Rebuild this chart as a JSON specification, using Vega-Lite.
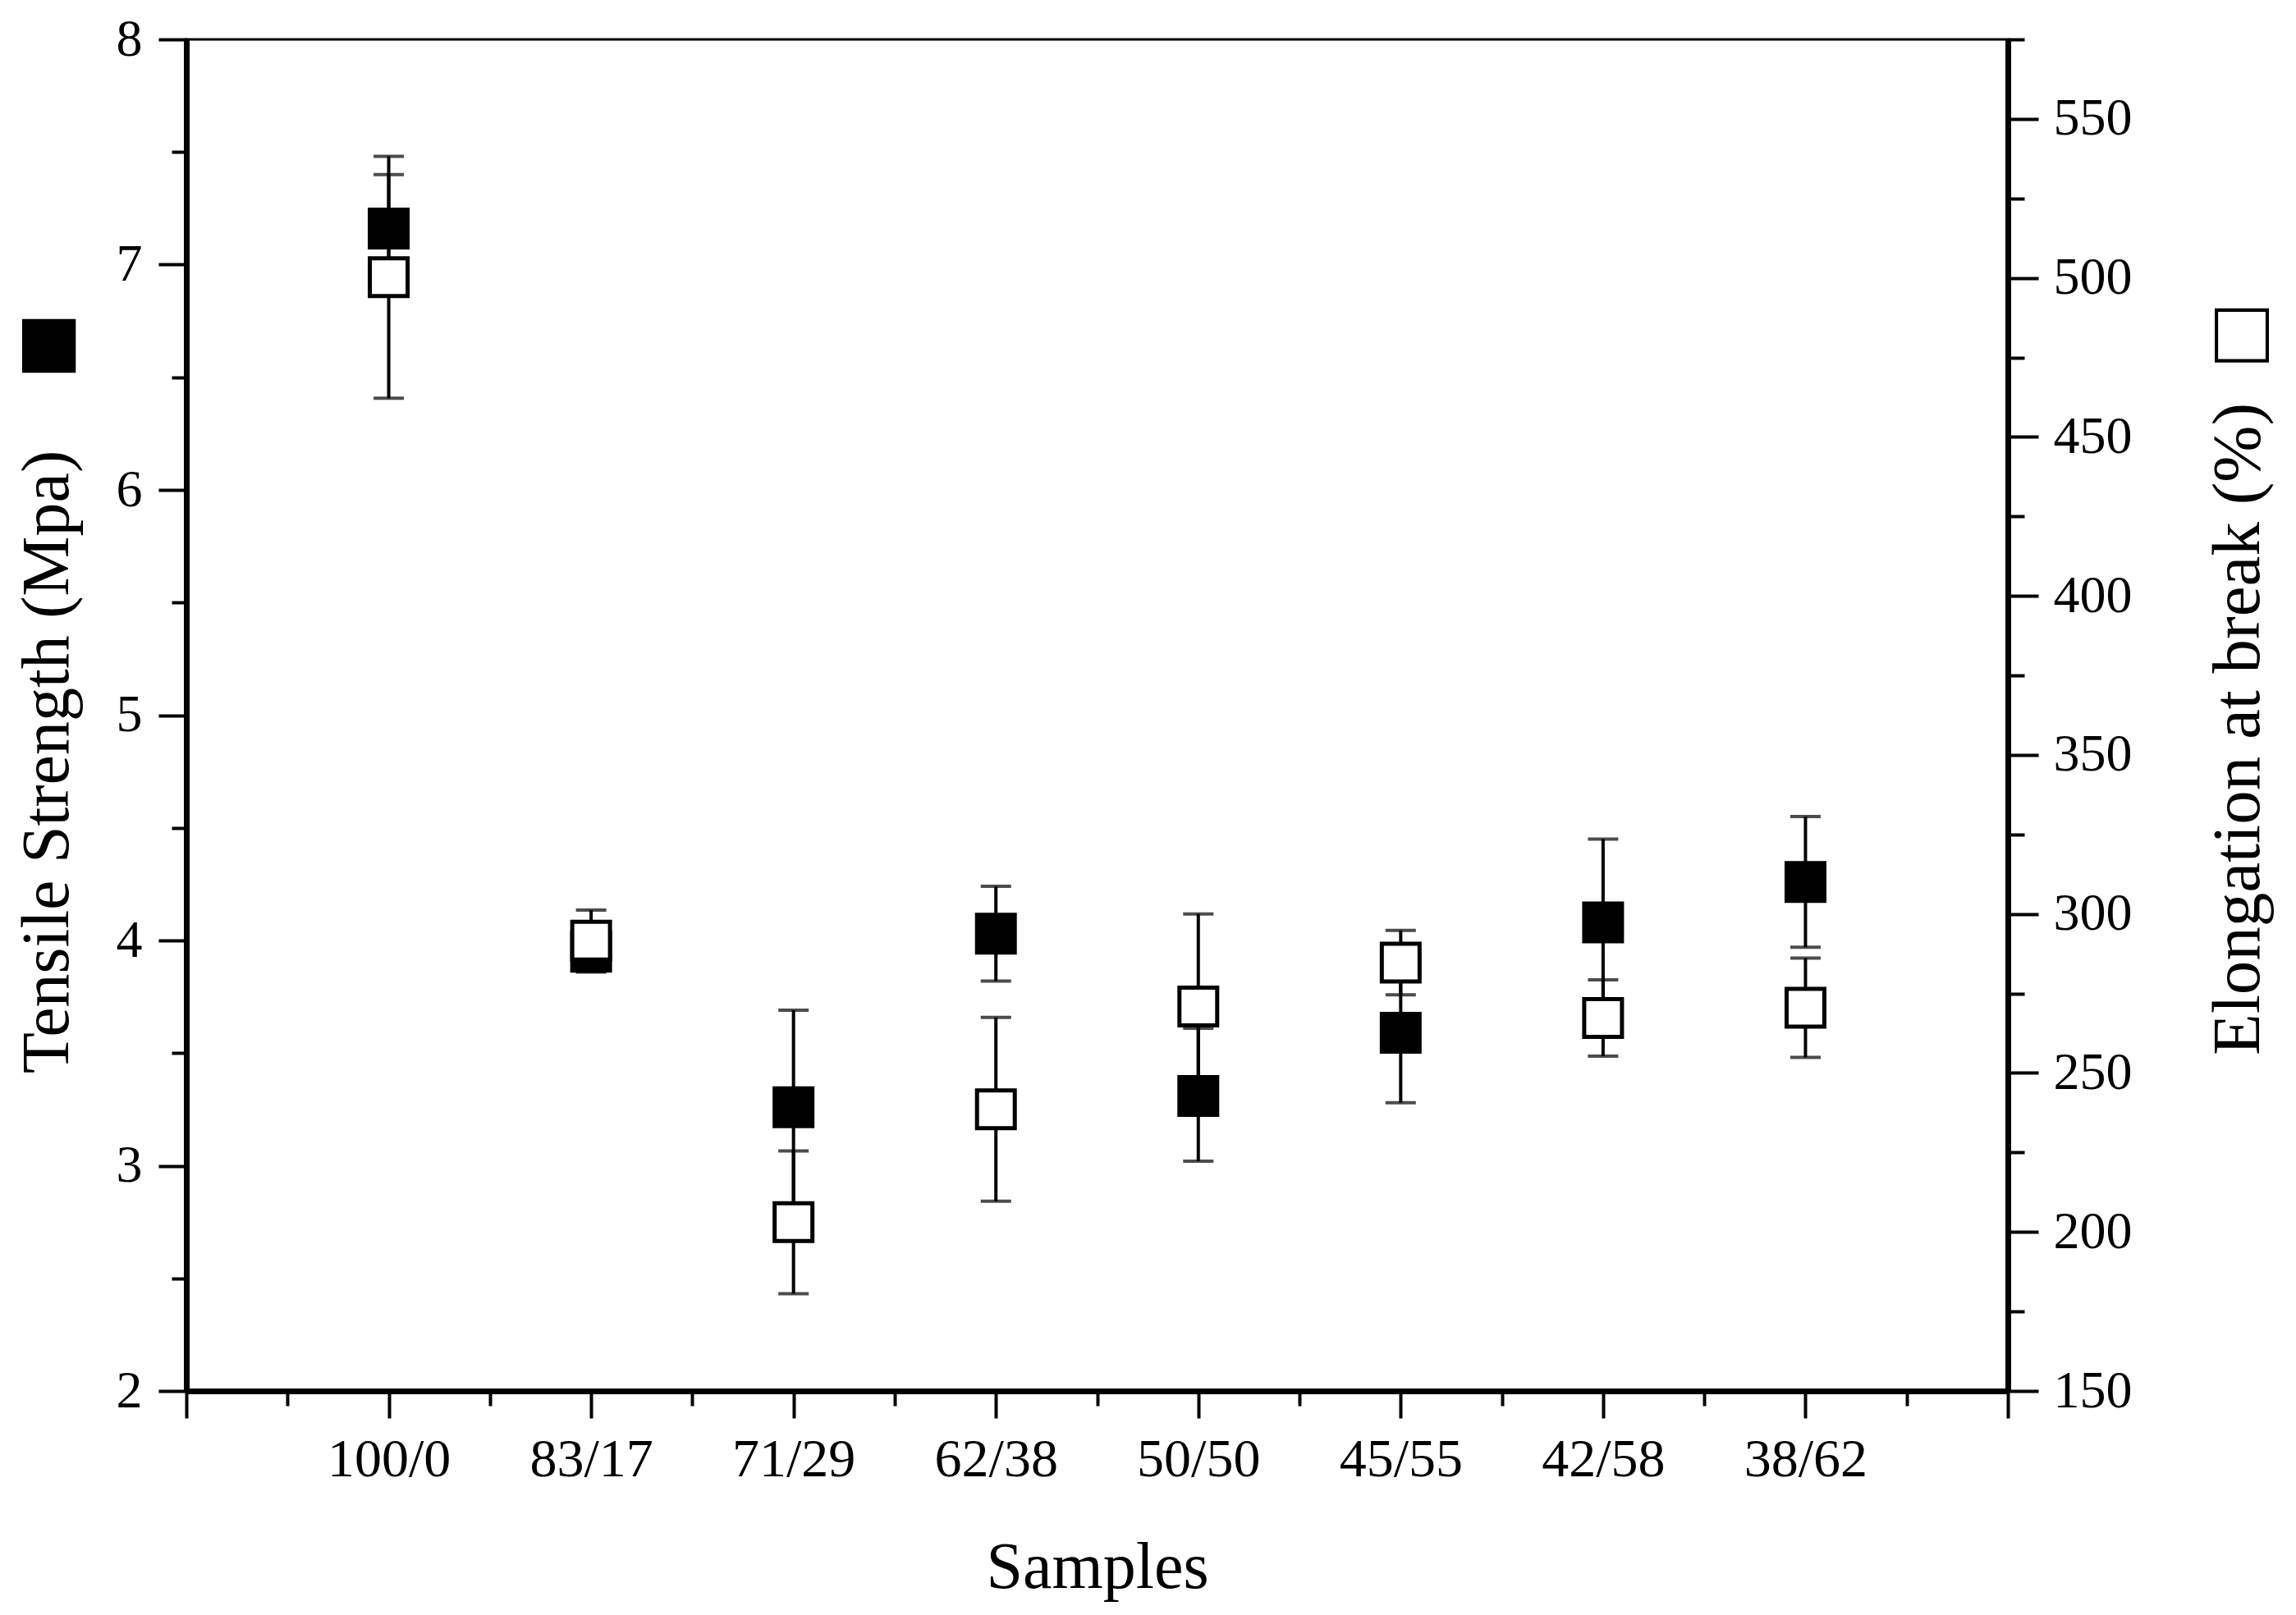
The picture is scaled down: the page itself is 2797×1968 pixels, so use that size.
{
  "$schema": "https://vega.github.io/schema/vega-lite/v6.json",
  "width": 2219,
  "height": 1647,
  "autosize": {"type": "none"},
  "padding": {"left": 227, "top": 48, "right": 351, "bottom": 273},
  "background": "white",
  "config": {
    "view": {"stroke": "black", "strokeWidth": 3},
    "font": "Liberation Serif",
    "axis": {
      "grid": false,
      "domainColor": "black",
      "domainWidth": 7,
      "tickColor": "black",
      "tickWidth": 4,
      "labelColor": "black",
      "titleColor": "black",
      "labelFont": "Liberation Serif",
      "titleFont": "Liberation Serif",
      "titleFontWeight": "normal"
    }
  },
  "data": {
    "values": [
      {"sample": "100/0", "ts": 7.16, "ts_lo": 6.92, "ts_hi": 7.40, "el": 500.2, "el_lo": 462.2, "el_hi": 538.2},
      {"sample": "83/17", "ts": 3.95, "ts_lo": 3.86, "ts_hi": 4.04, "el": 291.6, "el_lo": 282.0, "el_hi": 301.2},
      {"sample": "71/29", "ts": 3.26, "ts_lo": 2.83, "ts_hi": 3.69, "el": 203.1, "el_lo": 180.6, "el_hi": 225.5},
      {"sample": "62/38", "ts": 4.03, "ts_lo": 3.82, "ts_hi": 4.24, "el": 238.6, "el_lo": 209.7, "el_hi": 267.5},
      {"sample": "50/50", "ts": 3.31, "ts_lo": 3.02, "ts_hi": 3.61, "el": 270.9, "el_lo": 241.8, "el_hi": 300.0},
      {"sample": "45/55", "ts": 3.59, "ts_lo": 3.28, "ts_hi": 3.90, "el": 284.7, "el_lo": 274.6, "el_hi": 294.8},
      {"sample": "42/58", "ts": 4.08, "ts_lo": 3.71, "ts_hi": 4.45, "el": 267.3, "el_lo": 255.3, "el_hi": 279.3},
      {"sample": "38/62", "ts": 4.26, "ts_lo": 3.97, "ts_hi": 4.55, "el": 270.5, "el_lo": 254.9, "el_hi": 286.1}
    ]
  },
  "layer": [
    {
      "encoding": {
        "x": {
          "field": "sample", "type": "ordinal", "sort": null,
          "scale": {"type": "point", "padding": 1},
          "axis": {
            "orient": "bottom", "title": "Samples", "titleFontSize": 80, "titlePadding": 60,
            "labelFontSize": 66, "labelAngle": 0, "labelPadding": 18, "tickSize": 33
          }
        }
      },
      "layer": [
        {
          "mark": {"type": "rule", "color": "black", "strokeWidth": 4},
          "encoding": {
            "y": {
              "field": "ts_lo", "type": "quantitative",
              "scale": {"domain": [2, 8], "nice": false, "zero": false},
              "axis": {
                "orient": "left",
                "values": [2, 2.5, 3, 3.5, 4, 4.5, 5, 5.5, 6, 6.5, 7, 7.5, 8],
                "labelExpr": "datum.value % 1 === 0 ? format(datum.value, 'd') : ''",
                "tickSize": {"condition": {"test": "datum.value % 1 === 0", "value": 34}, "value": 18},
                "labelFontSize": 64, "labelPadding": 20,
                "title": "Tensile Strength (Mpa)", "titleFontSize": 82,
                "titleAngle": 270, "titleBaseline": "alphabetic", "titleAlign": "center",
                "titleX": -145, "titleY": 880
              }
            },
            "y2": {"field": "ts_hi"}
          }
        },
        {
          "mark": {"type": "tick", "color": "black", "size": 37, "thickness": 4},
          "encoding": {"y": {"field": "ts_lo", "type": "quantitative"}}
        },
        {
          "mark": {"type": "tick", "color": "black", "size": 37, "thickness": 4},
          "encoding": {"y": {"field": "ts_hi", "type": "quantitative"}}
        },
        {
          "mark": {"type": "square", "size": 2600, "color": "black", "opacity": 1, "filled": true},
          "encoding": {"y": {"field": "ts", "type": "quantitative"}}
        }
      ]
    },
    {
      "encoding": {
        "x": {
          "field": "sample", "type": "ordinal", "sort": null,
          "scale": {"type": "point", "padding": 1},
          "axis": null
        }
      },
      "layer": [
        {
          "mark": {"type": "rule", "color": "black", "strokeWidth": 4},
          "encoding": {
            "y": {
              "field": "el_lo", "type": "quantitative",
              "scale": {"domain": [150, 575], "nice": false, "zero": false},
              "axis": {
                "orient": "right",
                "values": [150, 175, 200, 225, 250, 275, 300, 325, 350, 375, 400, 425, 450, 475, 500, 525, 550, 575],
                "labelExpr": "datum.value % 50 === 0 ? datum.label : ''",
                "tickSize": {"condition": {"test": "datum.value % 50 === 0", "value": 37}, "value": 20},
                "labelFontSize": 64, "labelPadding": 18,
                "title": "Elongation at break (%)", "titleFontSize": 83,
                "titleAngle": 270, "titleBaseline": "alphabetic", "titleAlign": "center",
                "titleX": 305, "titleY": 840
              }
            },
            "y2": {"field": "el_hi"}
          }
        },
        {
          "mark": {"type": "tick", "color": "black", "size": 37, "thickness": 4},
          "encoding": {"y": {"field": "el_lo", "type": "quantitative"}}
        },
        {
          "mark": {"type": "tick", "color": "black", "size": 37, "thickness": 4},
          "encoding": {"y": {"field": "el_hi", "type": "quantitative"}}
        },
        {
          "mark": {"type": "square", "size": 2116, "fill": "white", "stroke": "black", "strokeWidth": 5, "opacity": 1, "filled": true},
          "encoding": {"y": {"field": "el", "type": "quantitative"}}
        }
      ]
    },
    {
      "data": {"values": [{"v": 0}, {"v": 9}]},
      "mark": {"type": "point", "opacity": 0},
      "encoding": {
        "x": {
          "field": "v", "type": "quantitative",
          "scale": {"domain": [0, 9], "nice": false, "zero": false},
          "axis": {
            "orient": "bottom", "title": null, "labels": false, "domain": false,
            "values": [0, 0.5, 1.5, 2.5, 3.5, 4.5, 5.5, 6.5, 7.5, 8.5, 9],
            "tickSize": {"condition": {"test": "datum.value === 0 || datum.value === 9", "value": 33}, "value": 18}
          }
        }
      }
    },
    {
      "data": {"values": [{"v": 2}, {"v": 8}]},
      "mark": {"type": "point", "opacity": 0},
      "encoding": {
        "y": {
          "field": "v", "type": "quantitative",
          "scale": {"domain": [2, 8], "nice": false, "zero": false},
          "axis": {
            "orient": "left", "labels": false, "ticks": false, "domain": false,
            "title": "■", "titleFont": "Liberation Serif", "titleFontSize": 135,
            "titleAngle": 270, "titleBaseline": "alphabetic", "titleAlign": "center",
            "titleX": -128, "titleY": 373
          }
        }
      }
    },
    {
      "data": {"values": [{"v": 150}, {"v": 575}]},
      "mark": {"type": "point", "opacity": 0},
      "encoding": {
        "y": {
          "field": "v", "type": "quantitative",
          "scale": {"domain": [150, 575], "nice": false, "zero": false},
          "axis": {
            "orient": "right", "labels": false, "ticks": false, "domain": false,
            "title": "□", "titleFont": "Liberation Serif", "titleFontSize": 110,
            "titleAngle": 270, "titleBaseline": "alphabetic", "titleAlign": "center",
            "titleX": 317, "titleY": 360
          }
        }
      }
    }
  ],
  "resolve": {
    "scale": {"x": "independent", "y": "independent"},
    "axis": {"x": "independent", "y": "independent"}
  }
}
